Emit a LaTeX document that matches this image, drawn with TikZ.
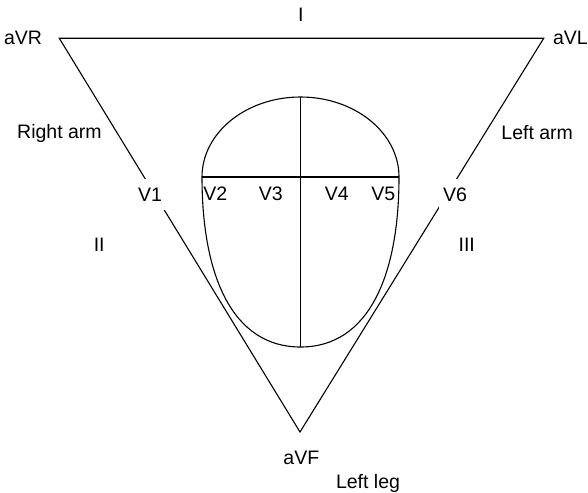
\documentclass[tikz,border=0pt]{standalone}
\usepackage{fontspec}
\setmainfont{Liberation Sans}
\usetikzlibrary{calc}

\begin{document}
\begin{tikzpicture}[x=1pt,y=-1pt,line width=1.1pt,
  every node/.style={font=\fontsize{19.5}{23}\selectfont,inner sep=0pt,anchor=base},
  gapbox/.style={fill=white,minimum width=32pt,minimum height=31pt}]
  \useasboundingbox (0,0) rectangle (588,492);

  % Einthoven triangle
  \coordinate (RA) at (59.3,38.3);
  \coordinate (LA) at (543.7,38.3);
  \coordinate (LL) at (300,432);
  \draw (RA) -- (LA) -- (LL) -- cycle;

  % heart outline
  \coordinate (hl) at (202,177);
  \coordinate (hr) at (399,177);
  \coordinate (ht) at (300.5,97);
  \coordinate (hb) at (300.5,347);
  \draw (hl) .. controls (202,132.8) and (246.1,97) .. (ht)
        .. controls (354.9,97) and (399,132.8) .. (hr)
        .. controls (399,275) and (369,347) .. (hb)
        .. controls (232,347) and (202,275) .. (hl) -- cycle;
  \draw (hl) -- (hr);
  \draw (ht) -- (hb);

  % limb leads
  \node (aVR) at (23.1,44.3) {aVR};
  \node (aVL) at (570.4,44.3) {aVL};
  \node (aVF) at (301.3,464) {aVF};
  \node (I) at (300.8,21.7) {I};
  \node (II) at (99.2,251.7) {II};
  \node (III) at (466.7,251.7) {III};
  \node (rarm) at (59.5,138.3) {Right arm};
  \node (larm) at (537.2,139.3) {Left arm};
  \node (lleg) at (368,488) {Left leg};

  % chest leads
  \node[gapbox] (V1) at (150,201.7) {V1};
  \node[gapbox] (V6) at (455,201.7) {V6};
  \foreach \x/\lab in {215.3/V2,270.8/V3,336.7/V4,383.3/V5}{
    \node (\lab) at (\x,200.7) {\lab};
  }
\end{tikzpicture}
\end{document}
